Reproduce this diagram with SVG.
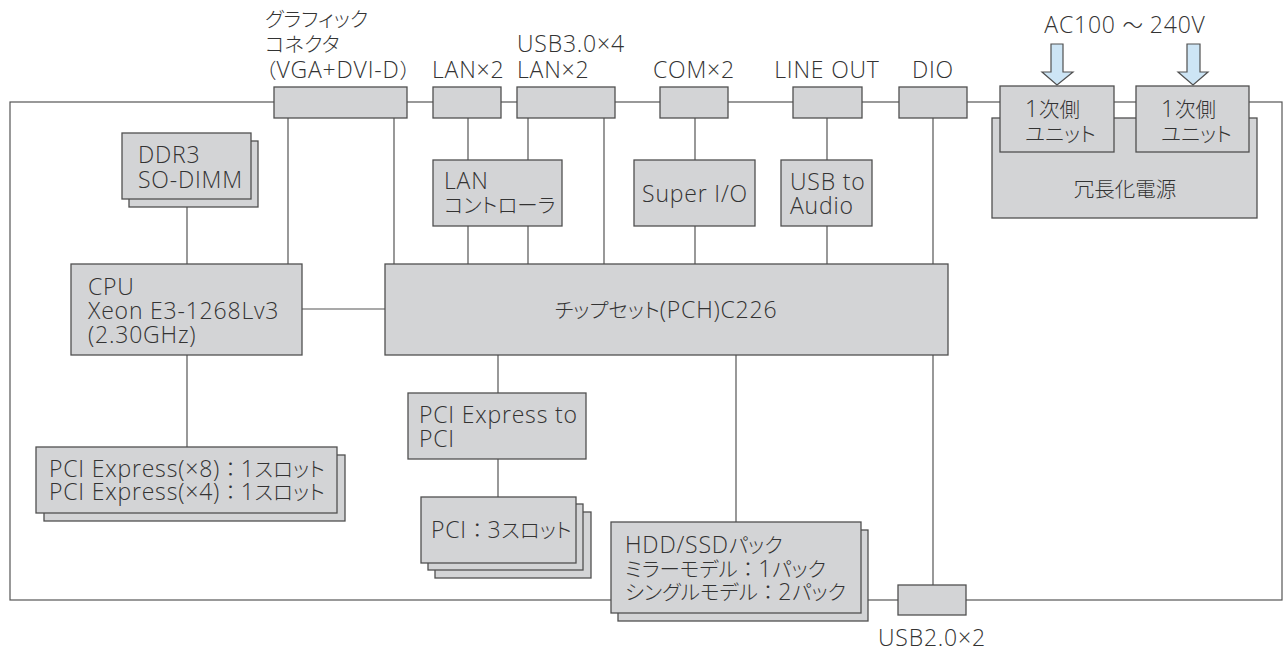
<svg xmlns="http://www.w3.org/2000/svg" width="1288" height="651" viewBox="0 0 1288 651">
<defs>
<style>
.box{fill:#d3d4d6;stroke:#505050;stroke-width:1.3}
.ln{stroke:#555;stroke-width:1.2;fill:none}
.arr{fill:#cde5f5;stroke:#505050;stroke-width:1.2}
text{font-family:"Open Sans","Liberation Sans","Noto Sans CJK JP",sans-serif;font-size:23px;fill:#333;font-weight:300;letter-spacing:0.8px}
.j,.f{font-family:"Noto Sans CJK JP",sans-serif;font-size:20.5px;font-weight:300;letter-spacing:0}
.j{font-feature-settings:"palt"}
.m{text-anchor:middle}
</style>
</defs>
<rect width="1288" height="651" fill="#fff"/>
<g id="connectors">
<rect class="ln" x="10" y="102" width="1272" height="498"/>
<path class="ln" d="M288 118V264M394 118V264M468 118V160M468 226V264M528 118V160M528 226V264M604 118V264M695 118V160M695 226V264M827 118V160M827 226V264M933 118V264M933 355V585M187 207V264M187 355V447M302 309H385M498 355V393M498 459V497M736 355V522"/>
</g>
<g id="graphics">
<rect class="box" x="274" y="87" width="133" height="31"/>
<text><tspan x="265" y="27" class="j">グラフィック</tspan><tspan x="265" y="52" class="j">コネクタ</tspan><tspan x="256" y="78"><tspan class="f">（</tspan>VGA+DVI-D<tspan class="f">）</tspan></tspan></text>
</g>
<g id="lan2">
<rect class="box" x="433" y="87" width="68" height="31"/>
<text x="432" y="78">LAN×2</text>
</g>
<g id="usb3">
<rect class="box" x="517" y="87" width="98" height="31"/>
<text><tspan x="517" y="52">USB3.0×4</tspan><tspan x="517" y="78">LAN×2</tspan></text>
</g>
<g id="com">
<rect class="box" x="660" y="87" width="68" height="31"/>
<text x="694" y="78" class="m">COM×2</text>
</g>
<g id="lineout">
<rect class="box" x="793" y="87" width="69" height="31"/>
<text x="827" y="78" class="m">LINE OUT</text>
</g>
<g id="dio">
<rect class="box" x="899" y="87" width="68" height="31"/>
<text x="933" y="78" class="m">DIO</text>
</g>
<g id="psu">
<rect class="box" x="992" y="118" width="265" height="100"/>
<text x="1125" y="197" class="m"><tspan class="j">冗長化電源</tspan></text>
</g>
<g id="unit1">
<rect class="box" x="1000" y="86" width="114" height="66"/>
<text><tspan x="1025" y="117">1<tspan class="j">次側</tspan></tspan><tspan x="1025" y="142" class="j">ユニット</tspan></text>
</g>
<g id="unit2">
<rect class="box" x="1136" y="86" width="113" height="66"/>
<text><tspan x="1161" y="117">1<tspan class="j">次側</tspan></tspan><tspan x="1161" y="142" class="j">ユニット</tspan></text>
</g>
<g id="ac">
<text x="1125" y="33" class="m">AC100 <tspan class="f">～</tspan> 240V</text>
<path class="arr" d="M1051 44H1063V72H1073L1057 85L1042 72H1051Z"/>
<path class="arr" d="M1187 44H1200V72H1208L1193 85L1178 72H1187Z"/>
</g>
<g id="lanctrl">
<rect class="box" x="433" y="160" width="129" height="66"/>
<text><tspan x="444" y="189">LAN</tspan><tspan x="444" y="213" class="j">コントローラ</tspan></text>
</g>
<g id="superio">
<rect class="box" x="634" y="160" width="121" height="66"/>
<text x="695" y="202" class="m">Super I/O</text>
</g>
<g id="usbaudio">
<rect class="box" x="781" y="160" width="91" height="66"/>
<text><tspan x="790" y="190">USB to</tspan><tspan x="790" y="214">Audio</tspan></text>
</g>
<g id="ddr3">
<rect class="box" x="129" y="141" width="129" height="66"/>
<rect class="box" x="122" y="133" width="129" height="66"/>
<text><tspan x="138" y="163">DDR3</tspan><tspan x="138" y="188">SO-DIMM</tspan></text>
</g>
<g id="cpu">
<rect class="box" x="71" y="264" width="231" height="91"/>
<text><tspan x="88" y="295">CPU</tspan><tspan x="88" y="319">Xeon E3-1268Lv3</tspan><tspan x="88" y="343">(2.30GHz)</tspan></text>
</g>
<g id="chipset">
<rect class="box" x="385" y="264" width="563" height="91"/>
<text x="666" y="318" class="m"><tspan class="j">チップセット</tspan>(PCH)C226</text>
</g>
<g id="pcie">
<rect class="box" x="44" y="455" width="301" height="66"/>
<rect class="box" x="36" y="447" width="301" height="66"/>
<text><tspan x="49" y="477">PCI Express(×8)<tspan class="f">：</tspan>1<tspan class="j">スロット</tspan></tspan><tspan x="49" y="500">PCI Express(×4)<tspan class="f">：</tspan>1<tspan class="j">スロット</tspan></tspan></text>
</g>
<g id="pcie2pci">
<rect class="box" x="408" y="393" width="178" height="66"/>
<text><tspan x="419" y="423">PCI Express to</tspan><tspan x="419" y="447">PCI</tspan></text>
</g>
<g id="pci">
<rect class="box" x="435" y="512" width="156" height="66"/>
<rect class="box" x="428" y="504" width="155" height="66"/>
<rect class="box" x="421" y="497" width="155" height="66"/>
<text x="431" y="538">PCI<tspan class="f">：</tspan>3<tspan class="j">スロット</tspan></text>
</g>
<g id="hdd">
<rect class="box" x="618" y="530" width="250" height="91"/>
<rect class="box" x="611" y="522" width="250" height="91"/>
<text><tspan x="625" y="553">HDD/SSD<tspan class="j">パック</tspan></tspan><tspan x="625" y="577"><tspan class="j">ミラーモデル</tspan><tspan class="f">：</tspan>1<tspan class="j">パック</tspan></tspan><tspan x="625" y="600"><tspan class="j">シングルモデル</tspan><tspan class="f">：</tspan>2<tspan class="j">パック</tspan></tspan></text>
</g>
<g id="usb2">
<rect class="box" x="898" y="585" width="68" height="30"/>
<text x="878" y="646">USB2.0×2</text>
</g>
</svg>
